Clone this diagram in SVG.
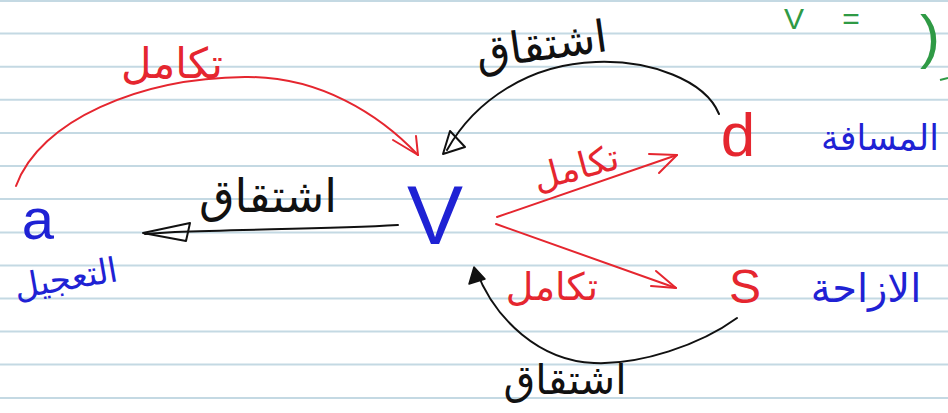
<svg xmlns="http://www.w3.org/2000/svg" width="948" height="413" viewBox="0 0 948 413">
<defs>
<style>
.rule{stroke:#c4d9e3;stroke-width:2}
.red{stroke:#e5262f;fill:none;stroke-width:2;stroke-linecap:round;stroke-linejoin:round}
.blk{stroke:#111;fill:none;stroke-width:2;stroke-linecap:round;stroke-linejoin:round}
.ar{font-family:"DejaVu Sans",sans-serif;text-anchor:middle}
.lat{font-family:"Liberation Sans",Arial,sans-serif;text-anchor:middle}
.tr{fill:#e5262f}
.tb{fill:#111}
.tu{fill:#1f22d4}
.tg{fill:#2f9a45}
</style>
</defs>
<rect width="948" height="413" fill="#ffffff"/>
<g id="paper">
<line class="rule" x1="0" y1="1" x2="948" y2="1"/>
<line class="rule" x1="0" y1="33.5" x2="948" y2="33.5"/>
<line class="rule" x1="0" y1="66.7" x2="948" y2="66.7"/>
<line class="rule" x1="0" y1="99.8" x2="948" y2="99.8"/>
<line class="rule" x1="0" y1="133" x2="948" y2="133"/>
<line class="rule" x1="0" y1="166" x2="948" y2="166"/>
<line class="rule" x1="0" y1="199" x2="948" y2="199"/>
<line class="rule" x1="0" y1="232.5" x2="948" y2="232.5"/>
<line class="rule" x1="0" y1="265.5" x2="948" y2="265.5"/>
<line class="rule" x1="0" y1="298.5" x2="948" y2="298.5"/>
<line class="rule" x1="0" y1="331.5" x2="948" y2="331.5"/>
<line class="rule" x1="0" y1="364.5" x2="948" y2="364.5"/>
<line class="rule" x1="0" y1="398" x2="948" y2="398"/>
</g>
<g id="green-fragment">
<text class="lat tg" x="794" y="29" font-size="30">V</text>
<text class="lat tg" x="851" y="29" font-size="30">=</text>
<text class="lat tg" x="920" y="57" font-size="60" style="text-anchor:start">)</text>
<path d="M940,80 L948,78" stroke="#2f9a45" stroke-width="2" fill="none"/>
</g>
<g id="node-V"><text class="lat tu" x="435" y="244" font-size="84">V</text></g>
<g id="node-a">
<text class="lat tu" x="38" y="239" font-size="58">a</text>
<text class="ar tu" x="66" y="290" font-size="34" transform="rotate(-10 66 280)">التعجيل</text>
</g>
<g id="node-d">
<text class="lat tr" x="738" y="156" font-size="62">d</text>
<text class="ar tu" x="880" y="150" font-size="35">المسافة</text>
</g>
<g id="node-S">
<text class="lat tr" x="745" y="303" font-size="48">S</text>
<text class="ar tu" x="866" y="302" font-size="40">الازاحة</text>
</g>
<g id="connectors">
<path class="red" d="M16,186 C40,120 140,78 245,77 C320,76 380,115 418,155"/>
<path class="red" d="M393,140 L418,155 L416,136"/>
<path class="blk" d="M719,114 C705,80 650,60 596,62 C530,64 475,100 447,150"/>
<polygon class="blk" points="443,154 450,131 465,147"/>
<path class="blk" d="M398,225 C330,229 250,229 175,232 L145,234"/>
<polygon class="blk" points="143,233 190,223 186,241"/>
<path class="red" d="M497,217 L677,155"/>
<path class="red" d="M649,154 L677,155 L659,173"/>
<path class="red" d="M496,224 L676,288"/>
<path class="red" d="M651,286 L676,288 L656,271"/>
<path class="blk" d="M737,318 C700,345 640,365 594,363 C540,361 495,320 476,270"/>
<polygon points="474,267 469,284 485,279" fill="#111" stroke="#111" stroke-width="1.5" stroke-linejoin="round"/>
</g>
<g id="labels">
<text class="ar tr" x="172" y="78" font-size="42">تكامل</text>
<text class="ar tb" x="542" y="60" font-size="44" transform="rotate(-8 542 50)">اشتقاق</text>
<text class="ar tb" x="268" y="212" font-size="46">اشتقاق</text>
<text class="ar tr" x="575" y="180" font-size="36" transform="rotate(-15 575 165)">تكامل</text>
<text class="ar tr" x="552" y="300" font-size="38">تكامل</text>
<text class="ar tb" x="565" y="394" font-size="41">اشتقاق</text>
</g>
</svg>
